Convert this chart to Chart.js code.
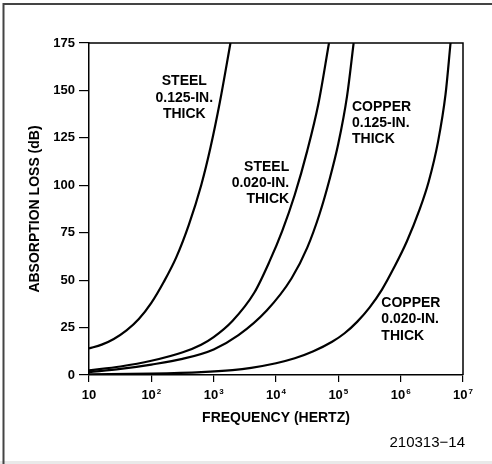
<!DOCTYPE html>
<html lang="en">
<head>
<meta charset="UTF-8">
<title>Absorption Loss vs Frequency</title>
<script src="https://cdn.jsdelivr.net/npm/chart.js"></script>
<style>
    html, body { margin: 0; padding: 0; background: #fff; }
    canvas { display: block; }
</style>
</head>
<body>
<canvas id="lossChart" width="492" height="464"></canvas>
<script>
    // frequency axis ticks (10 ... 10^7) and their exponents
    const freqTicks = [10, 1e2, 1e3, 1e4, 1e5, 1e6, 1e7];
    const freqTickExp = ['', '2', '3', '4', '5', '6', '7'];

    // curves: frequency (Hz) and absorption loss (dB)
    const steel125Freq = [10, 16, 25, 40, 63, 100, 158, 251, 398, 631, 891, 1260, 1860];
    const steel125Loss = [14, 16, 19, 23.5, 29.5, 38, 49, 62, 79, 100, 120, 144, 175];

    const steel020Freq = [10, 32, 100, 320, 630, 1000, 2000, 4500, 7900, 12600, 20000, 31600, 47900, 70800];
    const steel020Loss = [2.5, 4.5, 7.5, 12, 16, 20, 28.5, 43.5, 60, 76, 95, 118, 143, 175];

    const copper125Freq = [10, 32, 100, 316, 1000, 2500, 7100, 17800, 31600, 50100, 70800, 100000, 138000, 176000];
    const copper125Loss = [1.5, 3.2, 5.5, 8.5, 13.5, 21, 34, 51, 67, 85, 102, 122, 147, 175];

    const copper020Freq = [10, 100, 630, 2000, 4000, 10000, 20000, 39800, 79400, 126000, 200000, 316000, 501000, 794000, 1260000, 2000000, 2820000, 3980000, 5250000, 6310000];
    const copper020Loss = [0.3, 0.7, 1.5, 2.6, 3.8, 6.2, 8.8, 12.5, 17.5, 22, 28, 35.5, 45, 57, 70.5, 87, 102, 123, 148, 175];

    // curve captions, anchored in data coordinates
    const curveLabels = [
        { lines: ['STEEL', '0.125-IN.', 'THICK'], freq: 338, loss: 154.7, align: 'center' },
        { lines: ['STEEL', '0.020-IN.', 'THICK'], freq: 16300, loss: 109.8, align: 'right' },
        { lines: ['COPPER', '0.125-IN.', 'THICK'], freq: 165500, loss: 141.3, align: 'left' },
        { lines: ['COPPER', '0.020-IN.', 'THICK'], freq: 490000, loss: 37.9, align: 'left' }
    ];

    const FONT = "'Liberation Sans', Arial, Helvetica, sans-serif";
    Chart.defaults.font.family = FONT;
    Chart.defaults.color = '#000';

    function toPoints(xs, ys) {
        return xs.map((x, i) => ({ x: x, y: ys[i] }));
    }

    function curve(label, xs, ys) {
        return {
            label: label,
            data: toPoints(xs, ys),
            borderColor: '#000',
            borderWidth: 2.2,
            pointRadius: 0,
            fill: false,
            cubicInterpolationMode: 'monotone'
        };
    }

    // page frame, plot box, x tick labels, curve captions, figure number
    const decorations = {
        id: 'decorations',
        beforeDraw(chart) {
            const ctx = chart.ctx;
            ctx.save();
            ctx.fillStyle = '#fff';
            ctx.fillRect(0, 0, chart.width, chart.height);
            ctx.fillStyle = '#e9e9e9';
            ctx.fillRect(0, 461, chart.width, chart.height - 461);
            ctx.strokeStyle = '#444';
            ctx.lineWidth = 2;
            ctx.beginPath();
            ctx.moveTo(3.5, chart.height);
            ctx.lineTo(3.5, 4);
            ctx.lineTo(chart.width, 4);
            ctx.stroke();
            ctx.restore();
        },
        afterDraw(chart) {
            const ctx = chart.ctx;
            const area = chart.chartArea;
            const xs = chart.scales.x;
            const ys = chart.scales.y;
            ctx.save();

            // top and right sides of the plot box
            ctx.strokeStyle = '#000';
            ctx.lineWidth = 1.5;
            ctx.beginPath();
            ctx.moveTo(area.left, area.top);
            ctx.lineTo(area.right, area.top);
            ctx.lineTo(area.right, area.bottom);
            ctx.stroke();

            // x tick labels with superscript exponents
            ctx.fillStyle = '#000';
            ctx.textBaseline = 'middle';
            freqTicks.forEach((v, i) => {
                const px = xs.getPixelForValue(v);
                const py = area.bottom + 20;
                ctx.font = 'bold 13px ' + FONT;
                const baseW = ctx.measureText('10').width;
                ctx.font = 'bold 8px ' + FONT;
                const expW = freqTickExp[i] ? ctx.measureText(freqTickExp[i]).width + 1 : 0;
                const startX = px - (baseW + expW) / 2;
                ctx.textAlign = 'left';
                ctx.font = 'bold 13px ' + FONT;
                ctx.fillText('10', startX, py);
                if (freqTickExp[i]) {
                    ctx.font = 'bold 8px ' + FONT;
                    ctx.fillText(freqTickExp[i], startX + baseW + 1, py - 3);
                }
            });

            // curve captions
            ctx.font = 'bold 14px ' + FONT;
            curveLabels.forEach(lbl => {
                const px = xs.getPixelForValue(lbl.freq);
                const py = ys.getPixelForValue(lbl.loss);
                ctx.textAlign = lbl.align;
                lbl.lines.forEach((t, j) => ctx.fillText(t, px, py + j * 16.3));
            });

            // figure number
            ctx.font = '15px ' + FONT;
            ctx.textAlign = 'right';
            ctx.fillText('210313\u221214', area.right + 2, 443);
            ctx.restore();
        }
    };

    const ctx = document.getElementById('lossChart').getContext('2d');
    new Chart(ctx, {
        type: 'line',
        data: {
            datasets: [
                curve('Steel 0.125-in. thick', steel125Freq, steel125Loss),
                curve('Steel 0.020-in. thick', steel020Freq, steel020Loss),
                curve('Copper 0.125-in. thick', copper125Freq, copper125Loss),
                curve('Copper 0.020-in. thick', copper020Freq, copper020Loss)
            ]
        },
        options: {
            responsive: false,
            animation: false,
            layout: { padding: { left: 4, right: 29, top: 43, bottom: 0 } },
            plugins: {
                legend: { display: false },
                tooltip: { enabled: false }
            },
            scales: {
                x: {
                    type: 'logarithmic',
                    min: 10,
                    max: 1e7,
                    afterBuildTicks: (scale) => {
                        scale.ticks = freqTicks.map(v => ({ value: v }));
                    },
                    afterFit: (scale) => { scale.height = 89; },
                    ticks: { display: false },
                    grid: {
                        drawOnChartArea: false,
                        drawTicks: true,
                        tickLength: 7,
                        color: '#000',
                        lineWidth: 1.2
                    },
                    border: { display: true, color: '#000', width: 1.5 },
                    title: {
                        display: true,
                        text: 'FREQUENCY (HERTZ)',
                        font: { size: 14, weight: 'bold' },
                        padding: { top: 0, bottom: 37 }
                    }
                },
                y: {
                    min: 0,
                    max: 175,
                    afterFit: (scale) => { scale.width = 85; },
                    ticks: {
                        stepSize: 25,
                        padding: 4,
                        font: { size: 13, weight: 'bold' }
                    },
                    grid: {
                        drawOnChartArea: false,
                        drawTicks: true,
                        tickLength: 10,
                        color: '#000',
                        lineWidth: 1.2
                    },
                    border: { display: true, color: '#000', width: 1.5 },
                    title: {
                        display: true,
                        text: 'ABSORPTION LOSS (dB)',
                        font: { size: 14, weight: 'bold' },
                        padding: { top: 23, bottom: 0 }
                    }
                }
            }
        },
        plugins: [decorations]
    });
</script>
</body>
</html>
